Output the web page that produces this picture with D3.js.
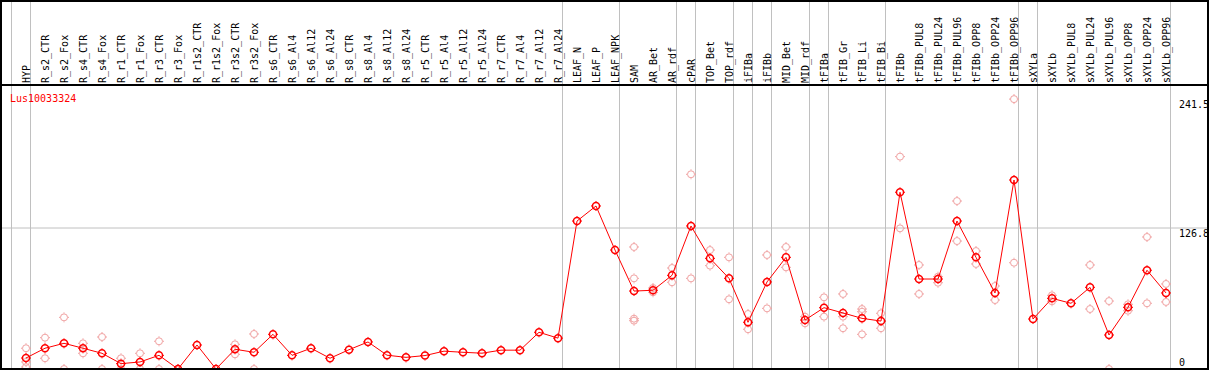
<!doctype html>
<html>
<head>
  <meta charset="utf8">
  <title>Lus10033324</title>
  <style>
    body {
      margin: 0;
      padding: 0;
      background: #fff;
    }
    svg {
      display: block;
    }
    text {
      font-family: "DejaVu Sans Mono", monospace;
      font-size: 10px;
    }
  </style>
</head>
<body>
  <svg></svg>

  <script src="https://d3js.org/d3.v7.min.js"></script>
  <script>
    const geneName = 'Lus10033324'

    const samples = [
      'HYP', 'R_s2_CTR', 'R_s2_Fox', 'R_s4_CTR', 'R_s4_Fox', 'R_r1_CTR', 'R_r1_Fox',
      'R_r3_CTR', 'R_r3_Fox', 'R_r1s2_CTR', 'R_r1s2_Fox', 'R_r3s2_CTR', 'R_r3s2_Fox',
      'R_s6_CTR', 'R_s6_Al4', 'R_s6_Al12', 'R_s6_Al24', 'R_s8_CTR', 'R_s8_Al4',
      'R_s8_Al12', 'R_s8_Al24', 'R_r5_CTR', 'R_r5_Al4', 'R_r5_Al12', 'R_r5_Al24',
      'R_r7_CTR', 'R_r7_Al4', 'R_r7_Al12', 'R_r7_Al24', 'LEAF_N', 'LEAF_P', 'LEAF_NPK',
      'SAM', 'AR_Bet', 'AR_rdf', 'cPAR', 'TOP_Bet', 'TOP_rdf', 'iFIBa', 'iFIBb',
      'MID_Bet', 'MID_rdf', 'tFIBa', 'tFIB_Gr', 'tFIB_Li', 'tFIB_Bi', 'tFIBb',
      'tFIBb_PUL8', 'tFIBb_PUL24', 'tFIBb_PUL96', 'tFIBb_OPP8', 'tFIBb_OPP24', 'tFIBb_OPP96',
      'sXYLa', 'sXYLb', 'sXYLb_PUL8', 'sXYLb_PUL24', 'sXYLb_PUL96', 'sXYLb_OPP8',
      'sXYLb_OPP24', 'sXYLb_OPP96'
    ]

    // mean expression per sample
    const means = [
      11.1, 19.8, 24.2, 19.8, 15.3, 6.1, 7.6, 13.5, 1.3, 22.7, 1.3, 18.9, 16.2,
      32.2, 13.5, 19.8, 10.9, 18.5, 25.4, 13.6, 11.7, 13.3, 17.2, 16.2, 15.4,
      18.1, 18.1, 34.0, 28.8, 133.0, 146.4, 107.2,
      70.7, 71.4, 84.7, 128.6, 99.8, 82.0, 42.9, 78.8,
      100.7, 44.9, 55.9, 51.2, 46.4, 44.0, 158.6,
      81.4, 81.4, 133.0, 100.7, 69.0, 169.5,
      45.8, 64.2, 59.8, 74.0, 31.6, 56.2, 89.2, 69.0
    ]

    // individual replicates per sample
    const replicates = [
      [19.8, 7.6, 3.1], [29.2, 10.9], [47.3, 1.3], [24.2, 15.3], [29.8, 1.3],
      [10.9, 1.3], [15.3, 1.3], [26.0, 1.3], [1.3], [], [], [23.3, 14.4], [32.5, 1.3],
      [], [], [], [], [], [], [], [], [], [], [], [], [], [], [], [],
      [], [], [],
      [109.9, 82.0, 46.1, 44.3], [73.4, 69.6], [91.2, 78.5], [174.6, 82.0],
      [107.2, 93.3], [100.7, 63.4], [50.3, 36.7], [102.8, 55.3],
      [109.9, 91.8], [47.9, 42.0], [65.1, 47.9], [68.1, 47.9, 37.6],
      [54.7, 52.3, 32.2], [50.9, 37.6], [190.3, 126.5],
      [93.9, 68.1], [83.5, 78.1], [150.8, 115.2], [106.3, 94.8], [75.2, 62.7],
      [241.5, 95.9],
      [], [66.9, 61.6], [], [93.9, 54.7], [61.8, 1.3], [58.9, 53.2], [118.8, 59.8],
      [77.0, 61.0]
    ]

    // last sample index of each group (separator lines)
    const groupEnds = [-1, 0, 28, 31, 34, 35, 37, 38, 39, 41, 42, 45, 52, 53, 60]

    const yTicks = [0, 126.8, 241.5]

    const width = 1209
    const height = 370
    const headerBottom = 85

    const svg = d3.select('svg')
      .attr('width', width)
      .attr('height', height)

    const x = d3.scalePoint()
      .domain(samples)
      .range([26, 1166])

    const step = x.step()
    const y = d3.scaleLinear()
      .domain([0, 241.5])
      .range([370.5, 99.1])

    // separators, drawn at label baselines
    svg.append('g')
      .selectAll('line')
      .data(groupEnds)
      .join('line')
      .attr('x1', i => x(samples[0]) + i * step + 4.5)
      .attr('x2', i => x(samples[0]) + i * step + 4.5)
      .attr('y1', 0)
      .attr('y2', height)
      .style('stroke', '#c0c0c0')
      .style('stroke-width', 1)

    // middle horizontal grid line
    svg.append('line')
      .attr('x1', 0)
      .attr('x2', width)
      .attr('y1', y(yTicks[1]))
      .attr('y2', y(yTicks[1]))
      .style('stroke', '#c0c0c0')
      .style('stroke-width', 1)

    // sample labels
    svg.append('g')
      .selectAll('text')
      .data(samples)
      .join('text')
      .attr('transform', d => `translate(${x(d) + 4},83) rotate(-90)`)
      .style('fill', '#000')
      .text(d => d)

    // value labels on the right
    svg.append('g')
      .selectAll('text')
      .data(yTicks)
      .join('text')
      .attr('x', 1179)
      .attr('y', d => Math.min(y(d) + 9, 366))
      .style('fill', '#000')
      .text(d => d === 0 ? '0' : d3.format('.1f')(d))

    svg.append('text')
      .attr('x', 10)
      .attr('y', 102)
      .style('fill', '#ff0000')
      .text(geneName)

    function marker (sel, color, sw) {
      sel.append('circle')
        .attr('r', 3.5)
        .style('fill', 'none')
        .style('stroke', color)
        .style('stroke-width', sw)
      sel.append('path')
        .attr('d', 'M0,-5V-4M0,4V5M-5,0H-4M4,0H5')
        .style('stroke', color)
        .style('stroke-width', 1)
    }

    const reps = samples.flatMap((s, i) => replicates[i].map(v => ({ s, v })))

    svg.append('g')
      .selectAll('g')
      .data(reps)
      .join('g')
      .attr('transform', d => `translate(${x(d.s)},${y(d.v)})`)
      .call(marker, '#f0a0a0', 1)

    const line = d3.line()
      .x((d, i) => x(samples[i]))
      .y(d => y(d))

    svg.append('path')
      .attr('d', line(means))
      .style('fill', 'none')
      .style('stroke', '#ff0000')
      .style('stroke-width', 1)

    svg.append('g')
      .selectAll('g')
      .data(means)
      .join('g')
      .attr('transform', (d, i) => `translate(${x(samples[i])},${y(d)})`)
      .call(marker, '#ff0000', 1.5)

    // frame
    svg.append('rect')
      .attr('x', 1)
      .attr('y', 1)
      .attr('width', width - 2)
      .attr('height', height - 2)
      .style('fill', 'none')
      .style('stroke', '#000')
      .style('stroke-width', 2)

    svg.append('line')
      .attr('x1', 0)
      .attr('x2', width)
      .attr('y1', headerBottom)
      .attr('y2', headerBottom)
      .style('stroke', '#000')
      .style('stroke-width', 2)
  </script>
</body>
</html>
